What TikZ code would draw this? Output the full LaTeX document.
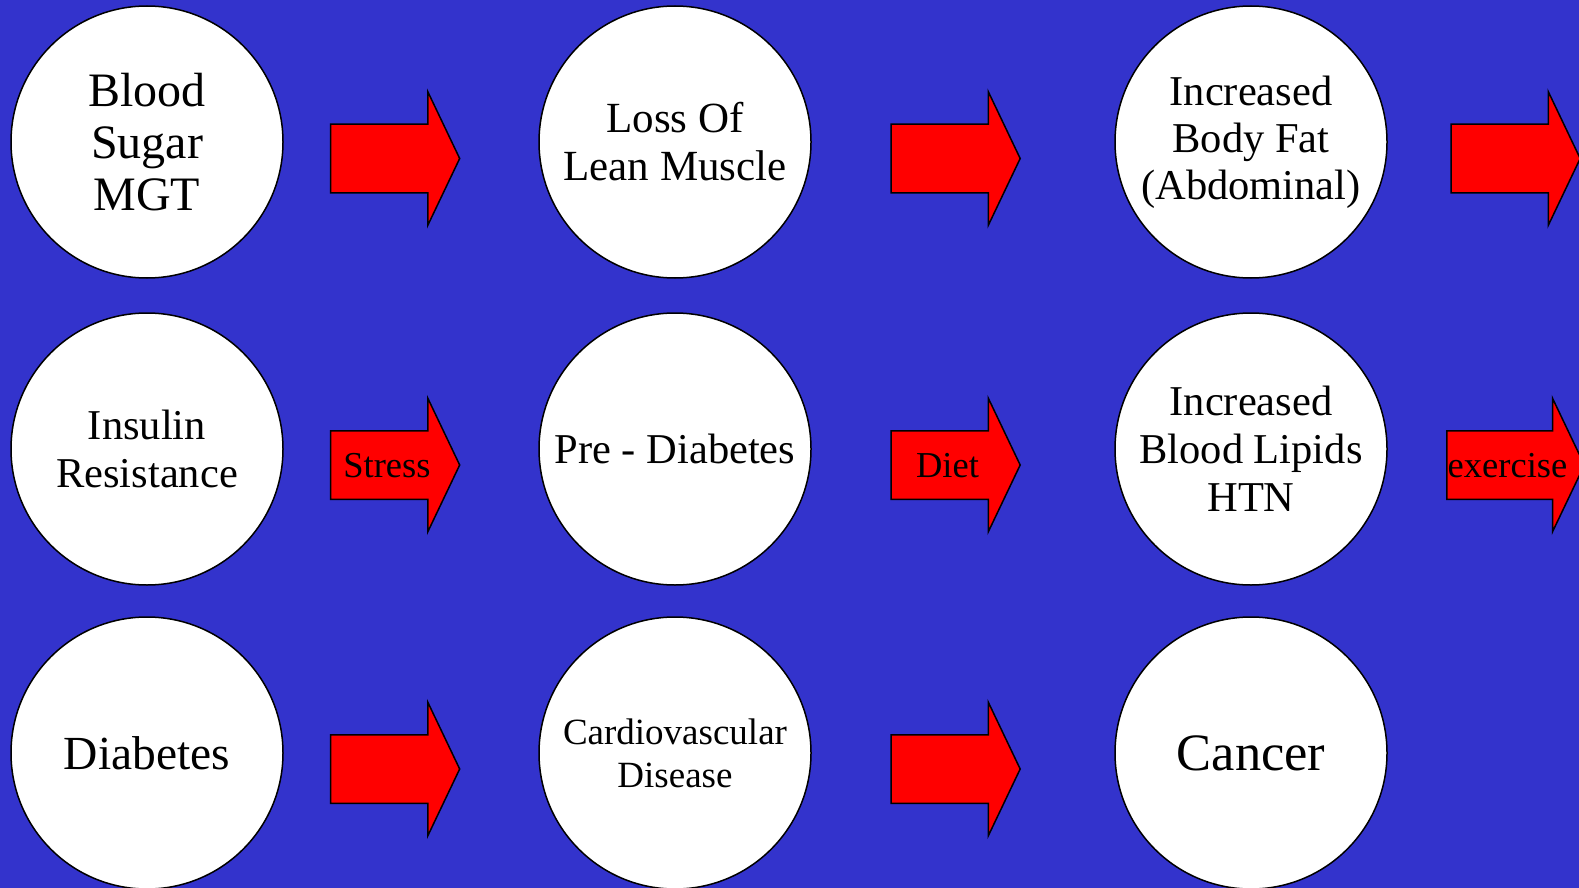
\documentclass[tikz,border=0pt]{standalone}
\usepackage{fontspec}
\setmainfont{Liberation Serif}
\usetikzlibrary{positioning,shapes.arrows}
\definecolor{slideblue}{RGB}{51,51,204}
\definecolor{arrowred}{RGB}{255,0,0}
\tikzset{
  stage/.style={circle,draw=black,line width=1.5pt,fill=white,
    minimum size=272pt,inner sep=0pt,align=center},
  push/.style={single arrow,draw=black,line width=1.5pt,fill=arrowred,
    minimum height=129pt,minimum width=132pt,inner xsep=0pt,inner ysep=21.5pt,
    text height=24pt,text depth=0pt,
    single arrow head extend=32.5pt,single arrow tip angle=129,
    font=\fontsize{36.5}{40}\selectfont},
}
\begin{document}
\begin{tikzpicture}[x=1pt,y=-1pt]
  \useasboundingbox (0,0) rectangle (1579,888);
  \fill[slideblue] (0,0) rectangle (1579,888);
  % top row
  \node[stage,font=\fontsize{48}{52}\selectfont] (sugar) at (147,142) {Blood\\Sugar\\MGT};
  \node[stage,font=\fontsize{43}{48}\selectfont] (muscle) at (675,142) {Loss Of\\Lean Muscle};
  \node[stage,font=\fontsize{42.5}{47}\selectfont] (fat) at (1251,142) {Increased\\Body Fat\\(Abdominal)};
  \node[push] (a1) at (387,158.5) {};
  \node[push] (a2) at (947.5,158.5) {};
  \node[push] (a3) at (1507.5,158.5) {};
  % middle row
  \node[stage,font=\fontsize{42.5}{48}\selectfont] (insulin) at (147,449) {Insulin\\Resistance};
  \node[stage,font=\fontsize{42.5}{48}\selectfont] (prediab) at (675,449) {Pre - Diabetes};
  \node[stage,font=\fontsize{42.5}{48}\selectfont] (lipids) at (1251,449) {Increased\\Blood Lipids\\HTN};
  \node[push] (stress) at (387,465) {Stress};
  \node[push] (diet) at (947.5,465) {Diet};
  \node[push] (exercise) at (1507.5,465) {exercise};
  % bottom row
  \node[stage,font=\fontsize{47.5}{52}\selectfont] (diabetes) at (147,753) {Diabetes};
  \node[stage,font=\fontsize{37}{43}\selectfont] (cardio) at (675,753) {Cardiovascular\\Disease};
  \node[stage,font=\fontsize{52.5}{56}\selectfont] (cancer) at (1251,753) {Cancer};
  \node[push] (b1) at (387,769) {};
  \node[push] (b2) at (947.5,769) {};
\end{tikzpicture}
\end{document}
